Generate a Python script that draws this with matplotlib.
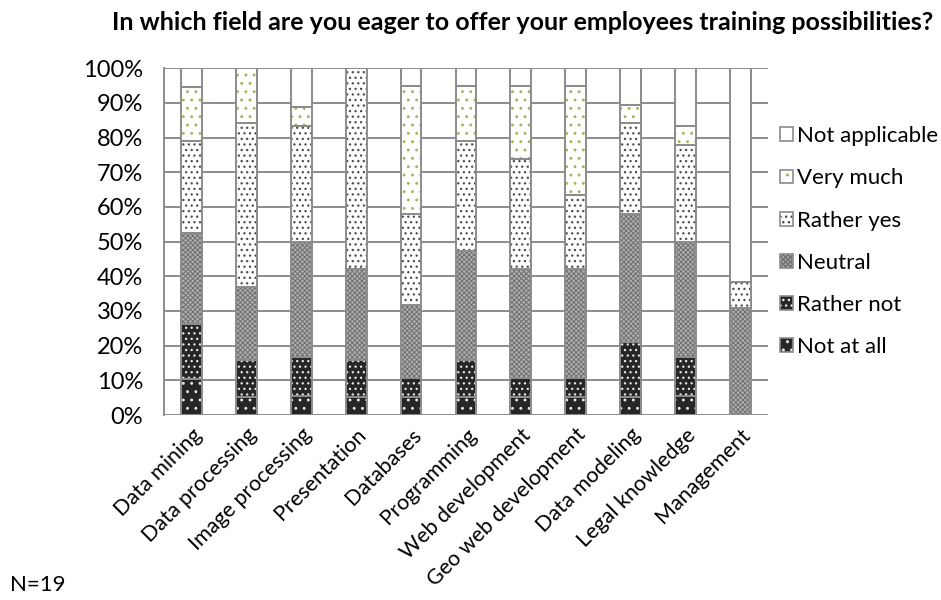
import matplotlib
matplotlib.use('Agg')
import matplotlib.pyplot as plt
from matplotlib.patches import Patch
import numpy as np

# ── DATOS ───────────────────────────────────────────────
categorias = ['Data mining', 'Data processing', 'Image processing', 'Presentation',
              'Databases', 'Programming', 'Web development', 'Geo web development',
              'Data modeling', 'Legal knowledge', 'Management']

not_at_all     = [10.5, 5.3, 5.6, 5.3, 5.3, 5.3, 5.3, 5.3, 5.3, 5.6, 0.0]
rather_not     = [15.8, 10.5, 11.1, 10.5, 5.3, 10.5, 5.3, 5.3, 15.8, 11.1, 0.0]
neutral        = [26.3, 21.1, 33.3, 26.3, 21.1, 31.6, 31.6, 31.6, 36.8, 33.3, 30.8]
rather_yes     = [26.3, 47.4, 33.3, 57.9, 26.3, 31.6, 31.6, 21.1, 26.3, 27.8, 7.7]
very_much      = [15.8, 15.8, 5.6, 0.0, 36.8, 15.8, 21.1, 31.6, 5.3, 5.6, 0.0]
not_applicable = [5.3, 0.0, 11.1, 0.0, 5.3, 5.3, 5.3, 5.3, 10.5, 16.7, 61.5]

# nombre, valores, relleno, trama, color trama, grosor trama
series = [
    ('Not at all',     not_at_all,     '#262626', '..',      '#e6e6e6', 0.9),
    ('Rather not',     rather_not,     '#262626', '...',     '#e6e6e6', 0.9),
    ('Neutral',        neutral,        '#b0b0b0', 'xxxxxxx', '#707070', 0.7),
    ('Rather yes',     rather_yes,     '#ffffff', '...',     '#4d4d4d', 0.9),
    ('Very much',      very_much,      '#ffffff', '..',      '#9bbb59', 0.9),
    ('Not applicable', not_applicable, '#ffffff', '',        '#ffffff', 0.9),
]

BORDE = '#8c8c8c'
FS = 17

# ── FIGURA ──────────────────────────────────────────────
plt.rcParams['font.family'] = ['Lato', 'DejaVu Sans']

fig = plt.figure(figsize=(9.41, 6.0), dpi=100)
ax = fig.add_axes([0.1743, 0.3083, 0.6417, 0.578])

x = np.arange(len(categorias))
ancho = 0.38
base = np.zeros(len(categorias))
handles = []
for nombre, vals, cara, trama, col_trama, lw_trama in series:
    vals = np.array(vals)
    with plt.rc_context({'hatch.linewidth': lw_trama}):
        # relleno + trama (el color de la trama sale del edgecolor)
        ax.bar(x, vals, ancho, bottom=base, color=cara, hatch=trama,
               edgecolor=col_trama, linewidth=0, zorder=2)
        h1 = Patch(facecolor=cara, hatch=trama, edgecolor=col_trama, linewidth=0)
    # borde gris encima
    ax.bar(x, vals, ancho, bottom=base, fill=False,
           edgecolor=BORDE, linewidth=1.4, zorder=3)
    h2 = Patch(fill=False, edgecolor=BORDE, linewidth=1.2)
    handles.append((h1, h2))
    base += vals

ax.set_xlim(-0.5, len(categorias) - 0.5)
ax.set_ylim(0, 100)
ax.set_yticks(np.arange(0, 101, 10))
ax.set_yticklabels([f'{v}%' for v in range(0, 101, 10)], fontsize=FS)
ax.yaxis.grid(True, color=BORDE, linewidth=1.4, zorder=0)
ax.set_axisbelow(True)
ax.tick_params(axis='y', length=0, pad=15)
ax.tick_params(axis='x', length=0, pad=7)
ax.set_xticks(x)
ax.set_xticklabels(categorias, rotation=45, ha='right', va='top',
                   rotation_mode='anchor', fontsize=15.5)

for lado in ['top', 'right', 'bottom']:
    ax.spines[lado].set_visible(False)
ax.spines['left'].set_color(BORDE)
ax.spines['left'].set_linewidth(1.4)

fig.text(0.555, 0.963,
         'In which field are you eager to offer your employees training possibilities?',
         fontsize=18, fontweight='bold', ha='center', va='center')

ax.legend(handles=handles[::-1], labels=[s[0] for s in series][::-1],
          loc='center left', bbox_to_anchor=(1.02, 0.5),
          frameon=False, fontsize=16, handlelength=0.58, handleheight=0.58,
          handletextpad=0.2, labelspacing=1.0, borderaxespad=0, borderpad=0)

fig.text(0.011, 0.015, 'N=19', fontsize=16, va='baseline')

fig.savefig('out.png', dpi=100)
